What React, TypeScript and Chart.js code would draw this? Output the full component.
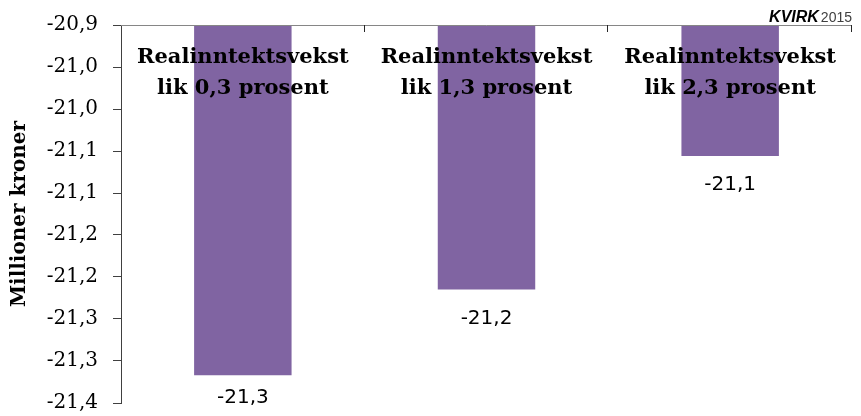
import { useEffect, useRef } from "react";
import { Chart, registerables } from "chart.js";

Chart.register(...registerables);

// Scenario labels (two lines each) and resulting values, million NOK
const scenarioLines: string[][] = [
  ["Realinntektsvekst", "lik 0,3 prosent"],
  ["Realinntektsvekst", "lik 1,3 prosent"],
  ["Realinntektsvekst", "lik 2,3 prosent"],
];
const categories = ["0,3", "1,3", "2,3"];
const values = [-21.317, -21.215, -21.056];

// Value axis: bars hang down from the top of the axis
const axisTop = -20.9;
const axisBottom = -21.35;
const tickStep = 0.05;

const yTitle = "Millioner kroner";
const sourceBrand = "KVIRK";
const sourceYear = "2015";

const barColor = "#8064A2";

// One decimal, comma as decimal separator, half away from zero
const fmt = (v: number) => {
  const sign = v < 0 ? "-" : "";
  const r = Math.round(Math.abs(v) * 10 + 1e-6) / 10;
  return sign + r.toFixed(1).replace(".", ",");
};

const overlay = {
  id: "overlay",
  afterDatasetsDraw(chart: any) {
    const { ctx, chartArea } = chart;
    const { left, right, top, bottom } = chartArea;
    const yScale = chart.scales.y;
    const xScale = chart.scales.x;
    const n = categories.length;
    const w = (right - left) / n;

    ctx.save();
    // category axis line along the top edge, with inward tick marks
    ctx.strokeStyle = "#868686";
    ctx.lineWidth = 1;
    ctx.beginPath();
    ctx.moveTo(left, Math.round(top) + 0.5);
    ctx.lineTo(right, Math.round(top) + 0.5);
    ctx.stroke();
    ctx.strokeStyle = "#262626";
    for (let i = 1; i <= n; i++) {
      const x = Math.round(left + i * w) - 0.5;
      ctx.beginPath();
      ctx.moveTo(x, top);
      ctx.lineTo(x, top + 7);
      ctx.stroke();
    }

    // scenario captions over the bars
    ctx.fillStyle = "#000000";
    ctx.textAlign = "center";
    ctx.textBaseline = "middle";
    ctx.font = "bold 21px 'DejaVu Serif'";
    scenarioLines.forEach((lines, i) => {
      const cx = xScale.getPixelForValue(i);
      lines.forEach((line, j) => {
        ctx.fillText(line, cx, 58 + j * 31);
      });
    });

    // value labels under each bar end, kept inside the plot
    ctx.font = "20px 'DejaVu Sans'";
    values.forEach((v, i) => {
      const cx = xScale.getPixelForValue(i);
      const y = yScale.getPixelForValue(v);
      ctx.fillText(fmt(v), cx, Math.min(y + 29, bottom - 5));
    });

    // source mark, top right
    ctx.textBaseline = "alphabetic";
    ctx.textAlign = "right";
    ctx.font = "14px 'Liberation Sans'";
    ctx.fillStyle = "#404040";
    const yearW = ctx.measureText(sourceYear).width;
    ctx.fillText(sourceYear, right, 22);
    ctx.font = "italic bold 16px 'Liberation Sans'";
    ctx.fillStyle = "#000000";
    ctx.fillText(sourceBrand, right - yearW - 2, 22);
    ctx.restore();
  },
};

export default function App() {
  const canvasRef = useRef<HTMLCanvasElement | null>(null);

  useEffect(() => {
    const canvas = canvasRef.current;
    if (!canvas) return;
    const chart = new Chart(canvas, {
      type: "bar",
      data: {
        labels: categories,
        datasets: [
          {
            data: values,
            base: axisTop,
            backgroundColor: barColor,
            borderWidth: 0,
            categoryPercentage: 1,
            barPercentage: 0.4,
          } as any,
        ],
      },
      options: {
        responsive: false,
        animation: false,
        devicePixelRatio: 1,
        layout: { padding: { left: 0, right: 9, top: 25, bottom: 13 } },
        plugins: {
          legend: { display: false },
          tooltip: { enabled: false },
        },
        scales: {
          x: { display: false },
          y: {
            min: axisBottom,
            max: axisTop,
            afterFit: (axis: any) => {
              axis.width = 121;
              axis.paddingTop = 0;
              axis.paddingBottom = 0;
            },
            ticks: {
              stepSize: tickStep,
              padding: 15,
              color: "#000000",
              font: { family: "'DejaVu Serif'", size: 20 },
              callback: (v: any) => fmt(Number(v)),
            },
            grid: {
              drawOnChartArea: false,
              drawTicks: true,
              tickLength: 8,
              color: "#404040",
            },
            border: { display: true, color: "#404040", width: 1 },
            title: {
              display: true,
              text: yTitle,
              color: "#000000",
              padding: { top: 8, bottom: 0 },
              font: { family: "'DejaVu Serif'", size: 20, weight: "bold" },
            },
          },
        },
      },
      plugins: [overlay],
    });
    return () => chart.destroy();
  }, []);

  return (
    <div style={{ position: "absolute", left: 0, top: 0, width: 861, height: 416, background: "#ffffff" }}>
      <canvas ref={canvasRef} width={861} height={416} />
    </div>
  );
}
